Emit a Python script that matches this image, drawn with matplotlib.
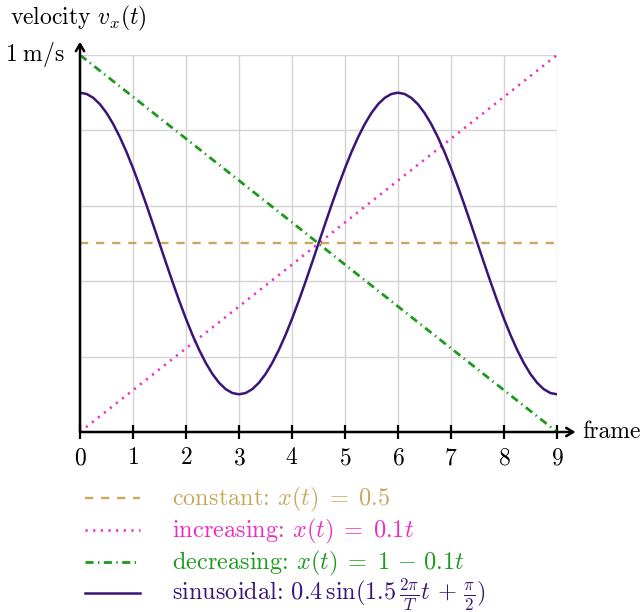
import matplotlib
matplotlib.use('Agg')
import matplotlib.pyplot as plt
from matplotlib.lines import Line2D

plt.rcParams['font.family'] = ['cmr10', 'DejaVu Serif']
plt.rcParams['mathtext.fontset'] = 'cm'
plt.rcParams['axes.formatter.use_mathtext'] = True
plt.rcParams['axes.unicode_minus'] = False

# frames and series
frames = [0, 1, 2, 3, 4, 5, 6, 7, 8, 9]
constant = [0.5, 0.5, 0.5, 0.5, 0.5, 0.5, 0.5, 0.5, 0.5, 0.5]
increasing = [0.0, 0.111, 0.222, 0.333, 0.444, 0.556, 0.667, 0.778, 0.889, 1.0]
decreasing = [1.0, 0.889, 0.778, 0.667, 0.556, 0.444, 0.333, 0.222, 0.111, 0.0]

# sinusoid sampled every 1/8 frame
half = [0.9, 0.8966, 0.8864, 0.8696, 0.8464, 0.8173, 0.7828, 0.7435, 0.7,
        0.6531, 0.6035, 0.5522, 0.5, 0.4478, 0.3965, 0.3469, 0.3, 0.2565,
        0.2172, 0.1827, 0.1536, 0.1304, 0.1136, 0.1034, 0.1]
sin_v = half + half[::-1][1:] + half[1:]
sin_t = [i / 8 for i in range(len(sin_v))]

labels = [r'constant: $x(t)\;=\;0.5$',
          r'increasing: $x(t)\;=\;0.1t$',
          r'decreasing: $x(t)\;=\;1\,-\,0.1t$',
          r'sinusoidal: $0.4\,\sin(1.5\,\frac{2\pi}{T}t\,+\,\frac{\pi}{2})$']
colors = ['#c6a95c', '#f02cc0', '#1c9a1c', '#3c1478']
styles = [(0, (3.5, 3.3)), (0, (0.8, 2.1)), (0, (2.9, 1.6, 0.5, 1.6)), '-']
widths = [1.7, 1.9, 2.0, 1.8]

W, H = 643, 612
fig = plt.figure(figsize=(W / 100, H / 100), dpi=100)
ax = fig.add_axes([80 / W, 180 / H, 477 / W, 377 / H])

series = [(frames, constant), (frames, increasing), (frames, decreasing), (sin_t, sin_v)]
for (xs, ys), c, ls, lw in zip(series, colors, styles, widths):
    ax.plot(xs, ys, color=c, ls=ls, lw=lw)

ax.set_xlim(0, 9)
ax.set_ylim(0, 1)
ax.set_xticks(frames)
ax.set_yticks([0.2, 0.4, 0.6, 0.8, 1.0])
ax.set_yticklabels([])
ax.tick_params(axis='y', length=0)
ax.tick_params(axis='x', direction='inout', length=10, width=1.6, labelsize=17, pad=6)
ax.grid(True, color='#d4d4d4', lw=1)
for s in ax.spines.values():
    s.set_visible(False)

# axis arrows
arrow = dict(arrowstyle='->,head_length=0.5,head_width=0.3', lw=1.8, color='black', shrinkA=0, shrinkB=0)
ax.annotate('', xy=(9.35, 0), xytext=(0, 0), arrowprops=arrow, annotation_clip=False)
ax.annotate('', xy=(0, 1.035), xytext=(0, 0), arrowprops=arrow, annotation_clip=False)

ax.text(9.47, 0, 'frame', fontsize=17, va='center', ha='left')
ax.annotate(r'$1\;\mathrm{m/s}$', xy=(0, 1), xytext=(-11, 0), textcoords='offset points',
            fontsize=17, ha='right', va='center', annotation_clip=False)
fig.text(10 / W, 1 - 18 / H, r'velocity $v_x(t)$', fontsize=17, ha='left', va='center')

# legend drawn by hand below the axes
rows = [498, 530, 562, 593]
for y, lab, c, ls, lw in zip(rows, labels, colors, styles, widths):
    fig.add_artist(Line2D([85 / W, 140 / W], [1 - y / H, 1 - y / H], color=c, ls=ls, lw=lw,
                          transform=fig.transFigure))
    fig.text(172 / W, 1 - (y + 7) / H, lab, color=c, fontsize=17.5, ha='left', va='baseline')

fig.savefig('out.png', dpi=100)
